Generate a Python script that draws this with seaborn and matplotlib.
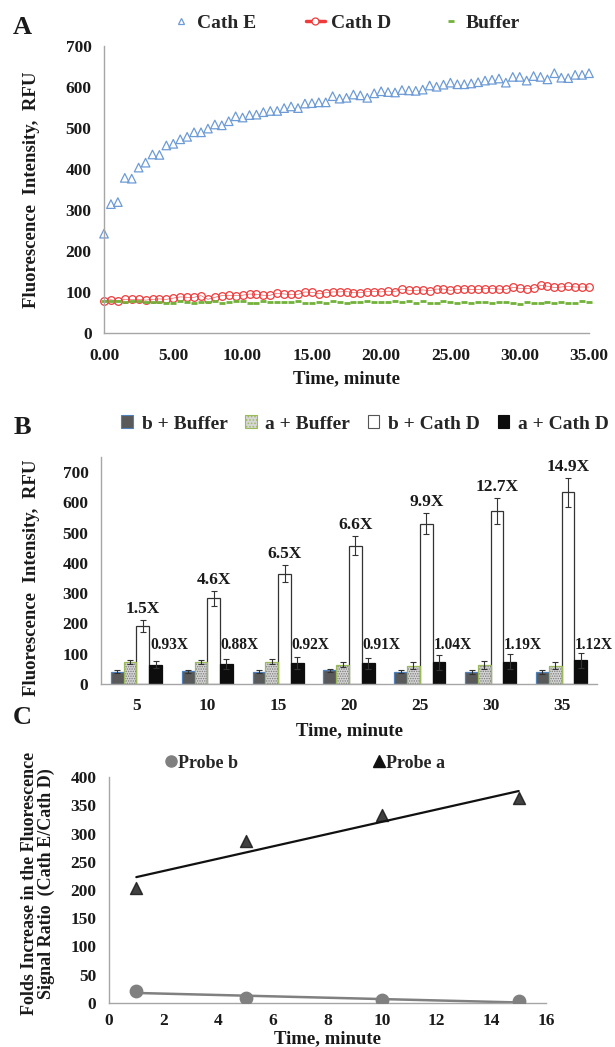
import numpy as np
import pandas as pd
import matplotlib
matplotlib.use("Agg")
import matplotlib.pyplot as plt
import seaborn as sns
from matplotlib.lines import Line2D
from matplotlib.patches import Patch, Rectangle
from matplotlib.ticker import FormatStrFormatter

sns.set_style("white")
plt.rcParams['font.family'] = ['Liberation Serif', 'DejaVu Serif']
plt.rcParams['font.weight'] = 'bold'
plt.rcParams['hatch.linewidth'] = 0.7

# ---- A: kinetics, read every 0.5 min ----
time_a = np.arange(0, 35.5, 0.5)
cath_e = [242, 314, 319, 378, 376, 403, 415, 435, 434, 457,
          461, 472, 478, 489, 489, 498, 508, 506, 516, 528,
          525, 531, 532, 538, 541, 541, 548, 552, 548, 559,
          560, 562, 562, 577, 571, 573, 581, 579, 573, 584,
          589, 587, 586, 592, 591, 590, 593, 603, 600, 605,
          610, 606, 606, 608, 611, 615, 617, 620, 610, 624,
          624, 615, 626, 624, 618, 633, 622, 621, 629, 629,
          633]
cath_d = [79, 81, 78, 82, 82, 82, 80, 82, 83, 82,
          85, 88, 87, 87, 91, 82, 87, 91, 92, 91,
          92, 95, 94, 92, 92, 97, 95, 94, 94, 100,
          99, 96, 98, 100, 100, 101, 98, 98, 101, 101,
          100, 102, 101, 107, 104, 104, 105, 103, 107, 107,
          104, 106, 108, 106, 106, 108, 108, 107, 106, 111,
          109, 108, 109, 116, 114, 111, 112, 114, 112, 112,
          112]
buffer_a = [78, 77, 78, 76, 77, 77, 76, 76, 75, 72,
            74, 77, 76, 74, 75, 75, 77, 73, 76, 77,
            77, 73, 73, 77, 76, 76, 76, 75, 77, 73,
            74, 75, 73, 77, 76, 74, 75, 76, 77, 75,
            76, 75, 77, 75, 77, 74, 77, 72, 73, 77,
            76, 74, 75, 74, 76, 75, 74, 76, 75, 73,
            71, 76, 74, 74, 76, 74, 75, 73, 74, 77,
            75]

# ---- B: bars ----
times_b = [5, 10, 15, 20, 25, 30, 35]
groups_b = ['b + Buffer', 'a + Buffer', 'b + Cath D', 'a + Cath D']
b_buffer = [40, 42, 40, 45, 40, 39, 39]
b_buffer_err = [5, 5, 5, 6, 5, 6, 7]
a_buffer = [72, 72, 74, 64, 60, 63, 60]
a_buffer_err = [6, 7, 9, 9, 12, 12, 12]
b_cathd = [192, 283, 364, 457, 530, 572, 633]
b_cathd_err = [20, 25, 28, 31, 35, 43, 48]
a_cathd = [64, 67, 69, 69, 72, 74, 78]
a_cathd_err = [12, 16, 20, 18, 25, 26, 25]
fold_b = ['1.5X', '4.6X', '6.5X', '6.6X', '9.9X', '12.7X', '14.9X']
fold_a = ['0.93X', '0.88X', '0.92X', '0.91X', '1.04X', '1.19X', '1.12X']

# ---- C: ratio ----
time_c = [1, 5, 10, 15]
probe_b = [22, 8, 5, 3.6]
probe_a = [204, 287, 332, 362]

W, H = 615, 1047
fig = plt.figure(figsize=(W / 100, H / 100), dpi=100)


def box(l, t, r, b):
    return [l / W, 1 - b / H, (r - l) / W, (b - t) / H]


spine_c = '#a6a6a6'
txt_c = '#1a1a1a'


def style_axes(ax):
    sns.despine(ax=ax)
    for s in ['left', 'bottom']:
        ax.spines[s].set_color(spine_c)
        ax.spines[s].set_linewidth(1.0)
    ax.tick_params(axis='both', colors=spine_c, labelcolor=txt_c, labelsize=12.5,
                   length=4, width=1.0, direction='out')
    ax.tick_params(axis='y', pad=5)
    ax.tick_params(axis='x', pad=7)
    ax.grid(False)


# ===== Panel A =====
axA = fig.add_axes(box(104, 45.7, 589, 333))
dfA = pd.DataFrame({'t': time_a, 'Cath E': cath_e, 'Cath D': cath_d, 'Buffer': buffer_a})
blue, red, green = '#6d9bd6', '#ef3b3b', '#72b23a'
sns.scatterplot(data=dfA, x='t', y='Cath E', ax=axA, marker='^', s=38,
                facecolor='none', edgecolor=blue, linewidth=0.9, clip_on=False, legend=False)
sns.lineplot(data=dfA, x='t', y='Cath D', ax=axA, color=red, lw=0.4, marker='o',
             markersize=5.5, markerfacecolor='none', markeredgecolor=red,
             markeredgewidth=0.9, clip_on=False, legend=False)
sns.lineplot(data=dfA, x='t', y='Buffer', ax=axA, color=green, linestyle='none', marker='_',
             markersize=5, markeredgewidth=2.0, markeredgecolor=green, clip_on=False, legend=False)
axA.set_xlim(0, 35)
axA.set_ylim(0, 700)
axA.set_xticks(range(0, 36, 5))
axA.xaxis.set_major_formatter(FormatStrFormatter('%.2f'))
axA.set_yticks(range(0, 701, 100))
style_axes(axA)
axA.set_xlabel('Time, minute', fontsize=13.5, fontweight='bold', color=txt_c, labelpad=4)
axA.set_ylabel('Fluorescence  Intensity,  RFU', fontsize=13.5, fontweight='bold', color=txt_c)
axA.yaxis.set_label_coords(-(104 - 40) / 485, 0.5)

hA = [Line2D([], [], ls='none', marker='^', ms=5, mfc='none', mec=blue, mew=0.9),
      Line2D([], [], color=red, lw=2.5, marker='o', ms=5, mfc='white', mec=red, mew=0.9),
      Line2D([], [], ls='none', marker='_', ms=4, mec=green, mew=2)]
fig.legend(hA, ['Cath E', 'Cath D', 'Buffer'], loc='center', bbox_to_anchor=(346 / W, 1 - 23 / H),
           ncol=3, frameon=False, prop={'size': 14, 'weight': 'bold'}, handlelength=1.0,
           handletextpad=0.3, columnspacing=2.55)

# ===== Panel B =====
axB = fig.add_axes(box(101, 457, 597, 684))
dfB = pd.DataFrame({'time': times_b * 4,
                    'group': np.repeat(groups_b, len(times_b)),
                    'value': b_buffer + a_buffer + b_cathd + a_cathd})
sns.barplot(data=dfB, x='time', y='value', hue='group', hue_order=groups_b, ax=axB,
            width=0.72, errorbar=None, legend=False, palette=['#595959', '#d0d0d0', 'white', '#0d0d0d'])
errs = [b_buffer_err, a_buffer_err, b_cathd_err, a_cathd_err]
vals = [b_buffer, a_buffer, b_cathd, a_cathd]
face = ['#595959', '#d6d6d6', 'white', '#0d0d0d']
edge = ['#4f81bd', '#9bbb59', '#333333', '#0d0d0d']
bar_conts = list(axB.containers)
for gi, cont in enumerate(bar_conts):
    for j, p in enumerate(cont.patches):
        p.set_facecolor(face[gi])
        if gi == 1:
            p.set_hatch('.......')
            p.set_edgecolor('#7a7a7a')
            p.set_linewidth(0)
            axB.add_patch(Rectangle((p.get_x(), 0), p.get_width(), p.get_height(),
                                    fill=False, edgecolor=edge[gi], lw=0.9, zorder=p.get_zorder() + 0.1))
        else:
            p.set_edgecolor(edge[gi])
            p.set_linewidth(0.9)
        xc = p.get_x() + p.get_width() / 2
        axB.errorbar(xc, vals[gi][j], yerr=errs[gi][j], fmt='none', ecolor='#333333',
                     elinewidth=0.8, capsize=2.2, capthick=0.8, zorder=5)
        if gi == 2:
            axB.text(xc, vals[gi][j] + errs[gi][j] + 10, fold_b[j], ha='center', va='bottom',
                     fontsize=12.5, fontweight='bold', color=txt_c)
            axB.text(p.get_x() + p.get_width() + 0.01, 103, fold_a[j], ha='left', va='bottom',
                     fontsize=11.2, fontweight='bold', color=txt_c)
axB.set_ylim(0, 750)
axB.set_xlim(-0.5, 6.5)
axB.set_yticks(range(0, 701, 100))
style_axes(axB)
axB.set_xticks(np.arange(-0.5, 6.6, 1), minor=True)
axB.tick_params(axis='x', which='major', length=0, pad=10)
axB.tick_params(axis='x', which='minor', length=5, color=spine_c, width=1.0)
axB.set_xlabel('Time, minute', fontsize=13.5, fontweight='bold', color=txt_c, labelpad=6)
axB.set_ylabel('Fluorescence  Intensity,  RFU', fontsize=13.5, fontweight='bold', color=txt_c)
axB.yaxis.set_label_coords(-(101 - 40) / 496, 0.47)

hB = [Patch(facecolor=face[0], edgecolor=edge[0], lw=0.8),
      Patch(facecolor=face[1], edgecolor=edge[1], lw=0.8, hatch='.....'),
      Patch(facecolor='white', edgecolor='#555555', lw=0.8),
      Patch(facecolor=face[3], edgecolor=face[3], lw=0.8)]
fig.legend(hB, groups_b, loc='center', bbox_to_anchor=(365 / W, 1 - 424 / H), ncol=4,
           frameon=False, prop={'size': 14, 'weight': 'bold'}, handlelength=0.6, handleheight=0.6,
           handletextpad=0.45, columnspacing=0.9)

# ===== Panel C =====
axC = fig.add_axes(box(109, 777, 546, 1003))
sns.regplot(x=time_c, y=probe_a, ax=axC, ci=None, truncate=True, marker='^', color='#111111',
            scatter_kws={'s': 75, 'zorder': 3}, line_kws={'lw': 1.6})
sns.regplot(x=time_c, y=probe_b, ax=axC, ci=None, truncate=True, marker='o', color='#808080',
            scatter_kws={'s': 80, 'alpha': 1, 'zorder': 3}, line_kws={'lw': 1.8})
axC.set_xlim(0, 16)
axC.set_ylim(0, 400)
axC.set_xticks(range(0, 17, 2))
axC.set_yticks(range(0, 401, 50))
style_axes(axC)
axC.tick_params(axis='x', pad=3)
axC.set_xlabel('Time, minute', fontsize=13.5, fontweight='bold', color=txt_c, labelpad=1)
axC.set_ylabel('Folds Increase in the Fluorescence\nSignal Ratio  (Cath E/Cath D)',
               fontsize=13, fontweight='bold', color=txt_c, linespacing=0.95)
axC.yaxis.set_label_coords(-(109 - 55) / 437, 0.53)

hC = [Line2D([], [], ls='none', marker='o', ms=8, mfc='#808080', mec='#808080'),
      Line2D([], [], ls='none', marker='^', ms=8, mfc='#111111', mec='#111111')]
fig.legend(hC, ['Probe b', 'Probe a'], loc='center', bbox_to_anchor=(305 / W, 1 - 763 / H), ncol=2,
           frameon=False, prop={'size': 13, 'weight': 'bold'}, handlelength=0.6,
           handletextpad=0.1, columnspacing=7.5)

for letter, (x, y) in {'A': (22, 28), 'B': (22, 428), 'C': (22, 718)}.items():
    fig.text(x / W, 1 - y / H, letter, fontsize=19, fontweight='bold', color=txt_c,
             ha='center', va='center')

fig.savefig('out.png', dpi=100)
